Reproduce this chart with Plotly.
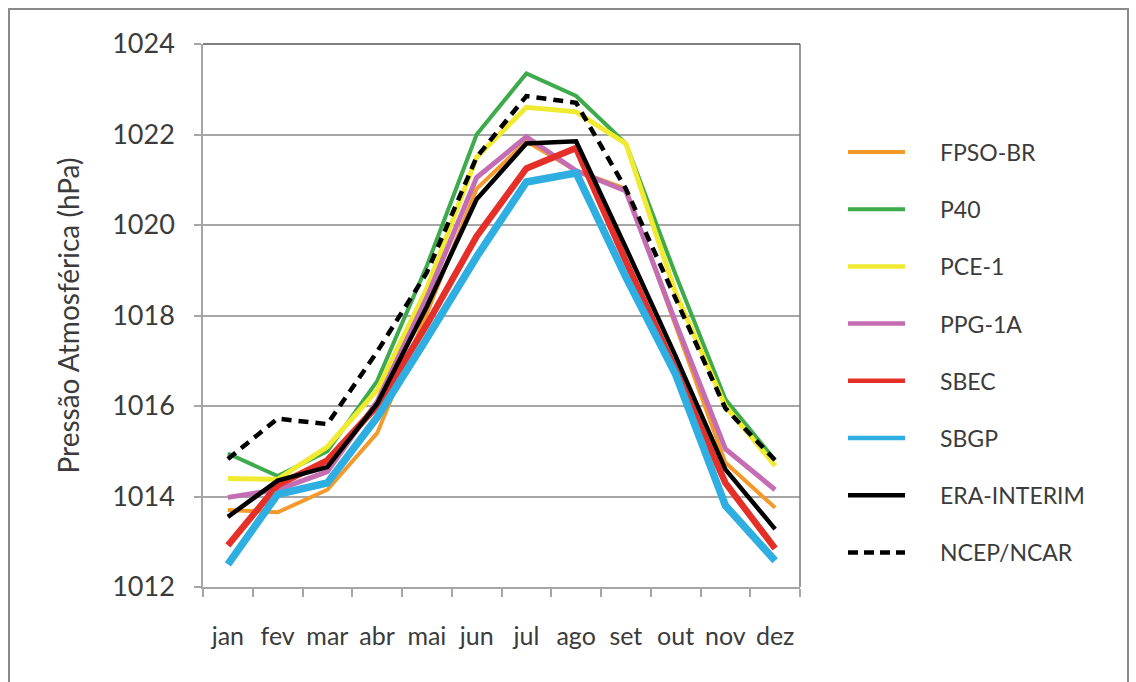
import plotly.graph_objects as go

# Monthly mean sea-level pressure (hPa) per station / reanalysis
months = ["jan", "fev", "mar", "abr", "mai", "jun", "jul", "ago", "set", "out", "nov", "dez"]

fpso_br = [1013.70, 1013.65, 1014.15, 1015.40, 1018.05, 1020.80, 1021.85, 1021.20, 1020.80, 1017.80, 1014.75, 1013.75]
p40 = [1014.95, 1014.45, 1015.00, 1016.55, 1019.10, 1022.00, 1023.35, 1022.85, 1021.80, 1018.90, 1016.15, 1014.80]
pce_1 = [1014.40, 1014.38, 1015.10, 1016.35, 1018.60, 1021.50, 1022.60, 1022.50, 1021.80, 1018.50, 1016.00, 1014.68]
ppg_1a = [1013.98, 1014.15, 1014.55, 1016.10, 1018.40, 1021.05, 1021.95, 1021.20, 1020.75, 1017.85, 1015.05, 1014.15]
sbec = [1012.92, 1014.25, 1014.80, 1016.00, 1017.80, 1019.75, 1021.25, 1021.70, 1019.20, 1016.80, 1014.30, 1012.85]
sbgp = [1012.50, 1014.05, 1014.30, 1015.75, 1017.50, 1019.30, 1020.95, 1021.15, 1018.85, 1016.70, 1013.80, 1012.58]
era_interim = [1013.55, 1014.35, 1014.65, 1016.05, 1018.20, 1020.57, 1021.80, 1021.85, 1019.50, 1017.10, 1014.60, 1013.28]
ncep_ncar = [1014.83, 1015.72, 1015.60, 1017.20, 1018.95, 1021.50, 1022.85, 1022.70, 1020.80, 1018.40, 1015.95, 1014.80]

y_ticks = [1012, 1014, 1016, 1018, 1020, 1022, 1024]

series = [
    ("FPSO-BR", fpso_br, "#F39A2B", 4, "solid"),
    ("P40", p40, "#3DAA4B", 4, "solid"),
    ("PCE-1", pce_1, "#F0EA30", 5, "solid"),
    ("PPG-1A", ppg_1a, "#C46DB2", 5, "solid"),
    ("SBEC", sbec, "#E5302A", 6.5, "solid"),
    ("SBGP", sbgp, "#2FAEE2", 7.5, "solid"),
    ("ERA-INTERIM", era_interim, "#000000", 4.5, "solid"),
    ("NCEP/NCAR", ncep_ncar, "#000000", 4.5, "dash"),
]

FONT = "Lato"
TEXT = "#3b3b3b"
GRID = "#a6a6a6"

# plot-area geometry in pixels (figure is 1136 x 682)
W, H = 1136, 682
L, R, T, B = 203, 800, 44, 587


def px_x(px):
    return (px - L) / (R - L)


def px_y(py):
    return (B - py) / (B - T)


fig = go.Figure()
for name, vals, color, width, dash in series:
    fig.add_trace(go.Scatter(
        x=months, y=vals, mode="lines", name=name,
        line=dict(color=color, width=width, dash=dash if dash == "solid" else "10px,7px"),
        showlegend=False,
    ))

shapes = []
annotations = []

# legend drawn at the right of the plot
leg_top, leg_step = 152, 57.2
for i, (name, vals, color, width, dash) in enumerate(series):
    yy = leg_top + i * leg_step
    shapes.append(dict(
        type="line", xref="paper", yref="paper",
        x0=px_x(848), x1=px_x(905), y0=px_y(yy), y1=px_y(yy),
        line=dict(color=color, width=min(width, 4.5), dash=dash if dash == "solid" else "10px,6px"),
    ))
    annotations.append(dict(
        text=name, xref="paper", yref="paper", x=px_x(938), y=px_y(yy),
        xanchor="left", yanchor="middle", showarrow=False,
        font=dict(family=FONT, size=23, color=TEXT),
    ))

# outer chart frame
shapes.append(dict(
    type="rect", xref="paper", yref="paper",
    x0=px_x(9), x1=px_x(1128), y0=px_y(9), y1=px_y(700),
    line=dict(color="#8a8a8a", width=2), layer="below",
))

fig.update_layout(
    width=W, height=H,
    margin=dict(l=L, r=W - R, t=T, b=H - B),
    paper_bgcolor="white", plot_bgcolor="white",
    font=dict(family=FONT, color=TEXT),
    shapes=shapes, annotations=annotations,
    showlegend=False,
)

fig.update_xaxes(
    type="category", categoryarray=months, range=[-0.5, len(months) - 0.5],
    showgrid=False, showline=True, linecolor=GRID, linewidth=1.5,
    mirror=False, ticks="outside", tickson="boundaries", ticklen=8,
    tickcolor=GRID, tickwidth=1.5, ticklabelstandoff=26, tickangle=0,
    tickfont=dict(family=FONT, size=25, color=TEXT),
)
fig.update_yaxes(
    range=[1012, 1024], tickvals=y_ticks, ticktext=[str(v) for v in y_ticks],
    showgrid=True, gridcolor=GRID, gridwidth=1.5,
    showline=True, linecolor=GRID, linewidth=1.5,
    ticks="outside", ticklen=7, tickcolor=GRID, tickwidth=1.5,
    ticklabelstandoff=14,
    tickfont=dict(family=FONT, size=27, color=TEXT),
    title=dict(text="Pressão Atmosférica (hPa)", font=dict(family=FONT, size=28, color=TEXT), standoff=24),
    zeroline=False,
)

# right-hand border of the plot area and darker top edge
fig.add_shape(type="line", xref="paper", yref="paper", x0=1, x1=1, y0=0, y1=1,
              line=dict(color="#7a7a7a", width=1.5))
fig.add_shape(type="line", xref="paper", yref="paper", x0=0, x1=1, y0=1, y1=1,
              line=dict(color="#555555", width=1.5))

fig.write_html("out.html")
